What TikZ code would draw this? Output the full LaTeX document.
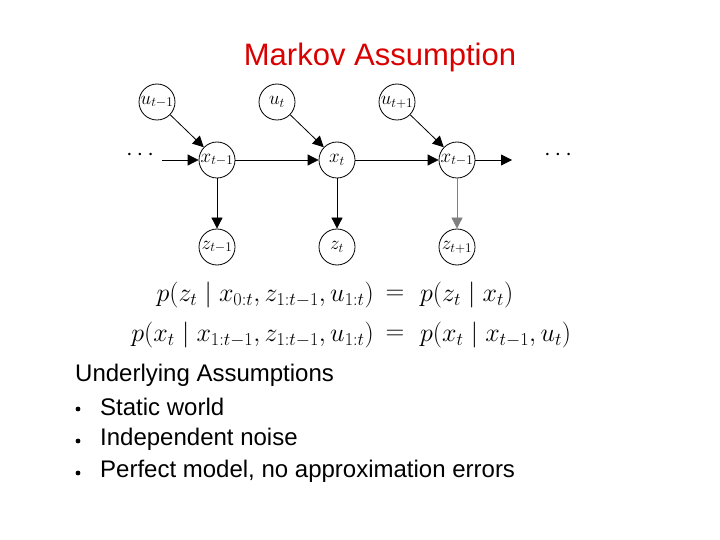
\RequirePackage{fix-cm}
\documentclass[tikz,border=0pt]{standalone}
\usepackage{fontspec}
\setmainfont{Liberation Sans}
\usepackage{amsmath}
\usetikzlibrary{arrows.meta}
\begin{document}
\begin{tikzpicture}[x=1pt,y=-1pt,
  var/.style={circle,draw,line width=0.8pt,minimum size=36pt,inner sep=0pt,font=\fontsize{19}{19}\selectfont},
  edge/.style={line width=0.8pt,-{Triangle[length=11pt,width=11pt]}},
  eq/.style={inner sep=0pt,font=\fontsize{26}{30}\selectfont},
  txt/.style={inner sep=0pt,anchor=west,font=\fontsize{24}{28}\selectfont}]
\useasboundingbox (0,0) rectangle (720,540);
\node[text=red!85!black,font=\fontsize{31}{34}\selectfont] (title) at (380,57) {Markov Assumption};
\foreach \i/\x/\s in {a/157/{t-1},b/277/{t},c/397/{t+1}} {
  \node[var] (u\i) at (\x,102) {$u_{\s}$};
}
\node[var] (xa) at (217,160) {$x_{t-1}$};
\node[var] (xb) at (337,160) {$x_{t}$};
\node[var] (xc) at (457,160) {$x_{t-1}$};
\node[var] (za) at (217,247) {$z_{t-1}$};
\node[var] (zb) at (337,247) {$z_{t}$};
\node[var] (zc) at (457,247) {$z_{t+1}$};
\node[font=\fontsize{24}{24}\selectfont,inner sep=0pt] (dl) at (142,155) {$\cdots$};
\node[font=\fontsize{24}{24}\selectfont,inner sep=0pt] (dr) at (560,155) {$\cdots$};
\coordinate (end) at (512,160);
\coordinate (start) at (162,160);
\draw[edge] (ua) -- (xa); \draw[edge] (ub) -- (xb); \draw[edge] (uc) -- (xc);
\draw[edge] (start) -- (xa); \draw[edge] (xa) -- (xb); \draw[edge] (xb) -- (xc); \draw[edge] (xc) -- (end);
\draw[edge] (xa) -- (za); \draw[edge] (xb) -- (zb); \draw[edge,draw=gray] (xc) -- (zc);
\node[eq,anchor=east] (l1) at (374,295) {$p(z_t\mid x_{0:t},z_{1:t-1},u_{1:t})$};
\node[eq] (e1) at (395,295) {$=$};
\node[eq,anchor=west] (r1) at (420,295) {$p(z_t\mid x_t)$};
\node[eq,anchor=east] (l2) at (374,335) {$p(x_t\mid x_{1:t-1},z_{1:t-1},u_{1:t})$};
\node[eq] (e2) at (395,335) {$=$};
\node[eq,anchor=west] (r2) at (420,335) {$p(x_t\mid x_{t-1},u_t)$};
\node[txt] (h) at (75,375) {Underlying Assumptions};
\foreach \y/\t/\n in {407/Static world/a,439/Independent noise/b,471/{Perfect model, no approximation errors}/c} {
  \fill (78,\y+2) circle (2.4pt);
  \node[txt] (b\n) at (100,\y) {\t};
}
\end{tikzpicture}
\end{document}
